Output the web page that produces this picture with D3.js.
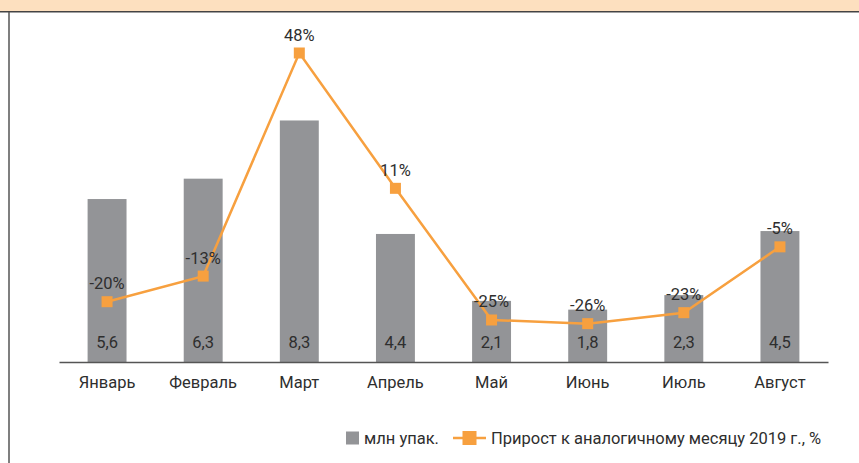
<!DOCTYPE html>
<html>
<head>
    <meta charset="UTF-8">
    <title>Продажи по месяцам</title>
    <script src="https://cdn.jsdelivr.net/npm/d3@7/dist/d3.min.js"></script>
    <style>
        body, html { margin: 0; padding: 0; background: #fff; }
        svg { display: block; font-family: Roboto, "Open Sans", sans-serif; }
    </style>
</head>
<body>
    <svg id="chart" width="859" height="463"></svg>
    <script>
        // data
        var months = ["Январь", "Февраль", "Март", "Апрель", "Май", "Июнь", "Июль", "Август"];
        var packs = [5.6, 6.3, 8.3, 4.4, 2.1, 1.8, 2.3, 4.5];
        var growth = [-20, -13, 48, 11, -25, -26, -23, -5];
        var legendLabels = ["млн упак.", "Прирост к аналогичному месяцу 2019 г., %"];

        var barColor = "#939497";
        var lineColor = "#f7a03f";
        var textColor = "#2e2e2e";
        var fs = "16.5px";

        var svg = d3.select("#chart");

        // top band + frame
        svg.append("rect").attr("x", 0).attr("y", 0).attr("width", 859).attr("height", 11.5).attr("fill", "#fde0bf");
        svg.append("line").attr("x1", 0).attr("x2", 859).attr("y1", 11.8).attr("y2", 11.8)
            .attr("stroke", "#444").attr("stroke-width", 1.5);
        svg.append("line").attr("x1", 9).attr("x2", 9).attr("y1", 12).attr("y2", 463)
            .attr("stroke", "#555").attr("stroke-width", 1.5);

        var x = d3.scaleBand()
            .domain(months)
            .range([59, 828])
            .paddingInner(0.595)
            .paddingOuter(0.2975);

        var y = d3.scaleLinear().domain([0, 9]).range([362, 100.1]);
        var y2 = d3.scaleLinear().domain([-20, 48]).range([301.7, 53]);

        var g = svg.append("g");

        // bars
        g.selectAll(".bar")
            .data(packs)
            .enter()
            .append("rect")
            .attr("class", "bar")
            .attr("x", function (d, i) { return x(months[i]); })
            .attr("y", function (d) { return y(d); })
            .attr("width", x.bandwidth())
            .attr("height", function (d) { return y(0) - y(d); })
            .attr("fill", barColor);

        // bar value labels near the base
        g.selectAll(".bar-label")
            .data(packs)
            .enter()
            .append("text")
            .attr("class", "bar-label")
            .text(function (d) { return String(d).replace(".", ","); })
            .attr("x", function (d, i) { return x(months[i]) + x.bandwidth() / 2; })
            .attr("y", y(0) - 14)
            .attr("text-anchor", "middle")
            .attr("fill", textColor)
            .attr("font-size", fs);

        // x axis
        var xAxis = d3.axisBottom(x).tickSize(0).tickPadding(14);
        var ax = svg.append("g")
            .attr("transform", "translate(0," + y(0) + ")")
            .call(xAxis);
        ax.select(".domain").attr("stroke", "#555").attr("stroke-width", 1.5);
        ax.selectAll("text")
            .attr("fill", textColor)
            .attr("font-size", fs)
            .attr("font-family", "Roboto, sans-serif");

        // growth line
        var line = d3.line()
            .x(function (d, i) { return x(months[i]) + x.bandwidth() / 2; })
            .y(function (d) { return y2(d); });

        g.append("path")
            .datum(growth)
            .attr("d", line)
            .attr("fill", "none")
            .attr("stroke", lineColor)
            .attr("stroke-width", 2.5);

        g.selectAll(".marker")
            .data(growth)
            .enter()
            .append("rect")
            .attr("class", "marker")
            .attr("x", function (d, i) { return x(months[i]) + x.bandwidth() / 2 - 5.5; })
            .attr("y", function (d) { return y2(d) - 5.5; })
            .attr("width", 11)
            .attr("height", 11)
            .attr("fill", lineColor);

        g.selectAll(".growth-label")
            .data(growth)
            .enter()
            .append("text")
            .attr("class", "growth-label")
            .text(function (d) { return d + "%"; })
            .attr("x", function (d, i) { return x(months[i]) + x.bandwidth() / 2; })
            .attr("y", function (d) { return y2(d) - 12.5; })
            .attr("text-anchor", "middle")
            .attr("fill", textColor)
            .attr("font-size", fs);

        // legend
        var lg = svg.append("g").attr("transform", "translate(0,438)");
        lg.append("rect").attr("x", 346).attr("y", -6.5).attr("width", 13).attr("height", 13).attr("fill", barColor);
        lg.append("text").attr("x", 364).attr("y", 6).text(legendLabels[0])
            .attr("fill", textColor).attr("font-size", fs);
        lg.append("line").attr("x1", 453).attr("x2", 486).attr("y1", 0).attr("y2", 0)
            .attr("stroke", lineColor).attr("stroke-width", 2.5);
        lg.append("rect").attr("x", 462.5).attr("y", -7).attr("width", 14).attr("height", 14).attr("fill", lineColor);
        lg.append("text").attr("x", 491).attr("y", 6).text(legendLabels[1])
            .attr("fill", textColor).attr("font-size", fs);
    </script>
</body>
</html>
